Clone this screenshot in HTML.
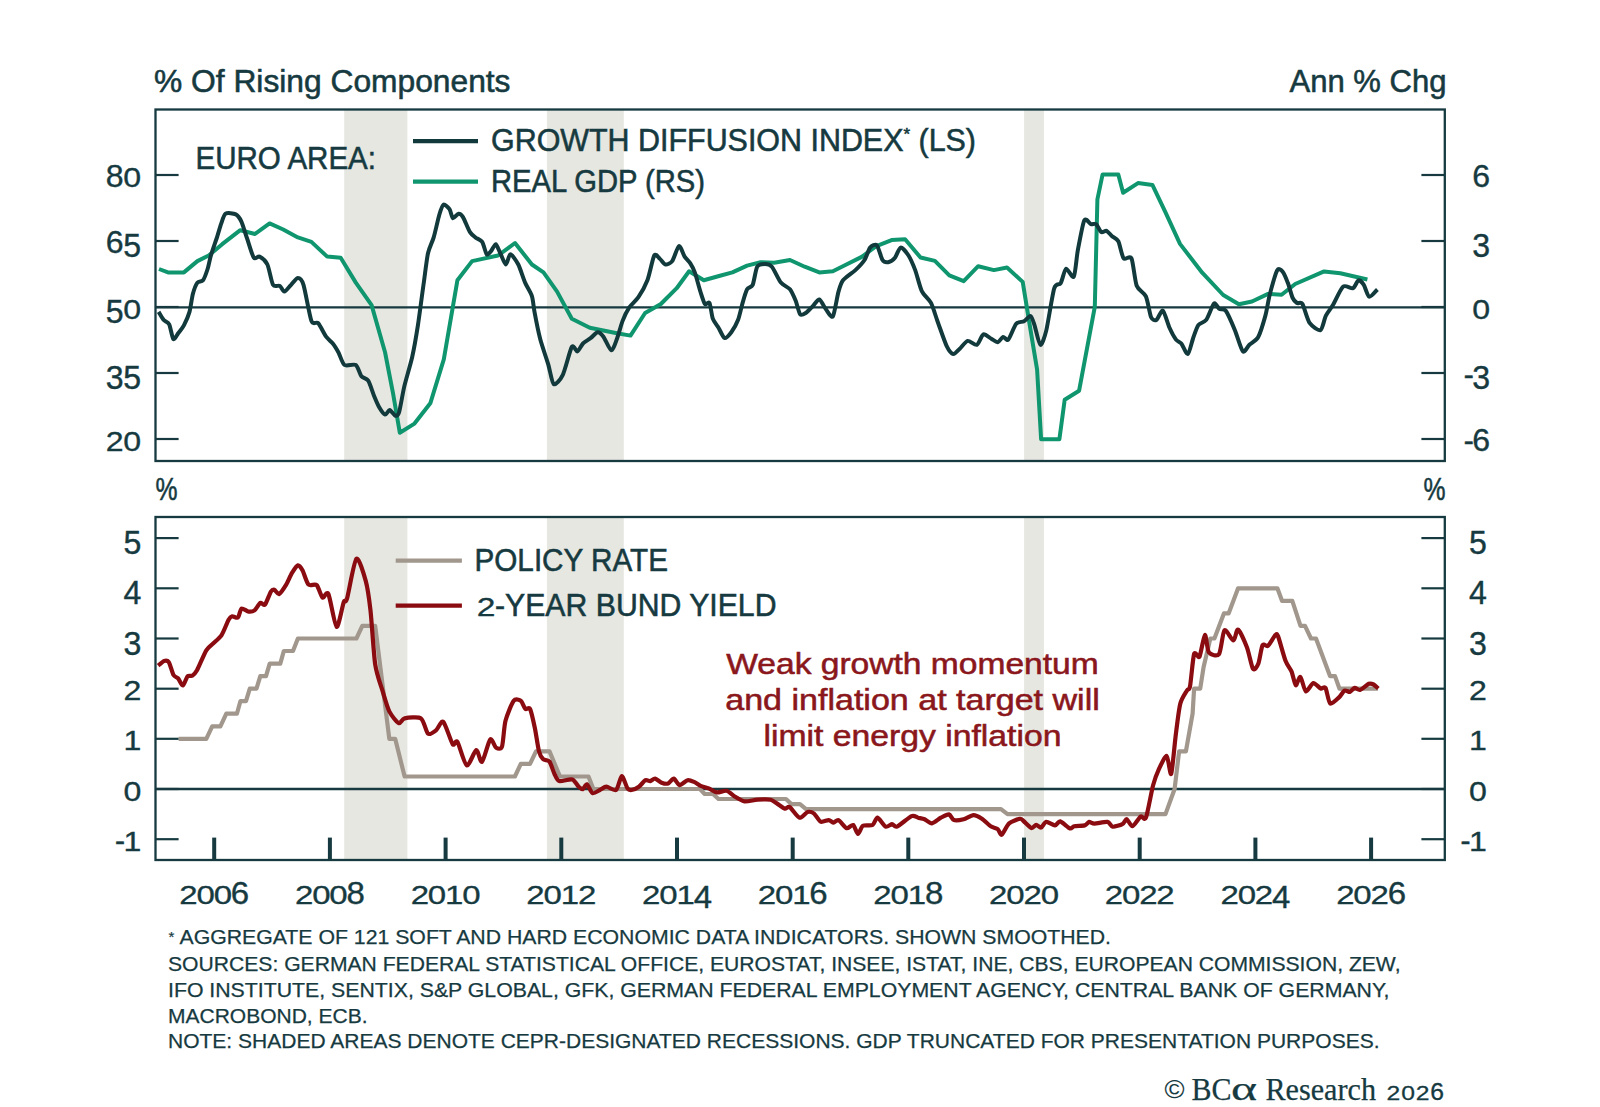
<!DOCTYPE html>
<html><head><meta charset="utf-8"><style>
html,body{margin:0;padding:0;background:#fff;width:1600px;height:1107px;overflow:hidden}
svg{display:block}
text{font-family:"Liberation Sans",sans-serif;fill:#163a3f;stroke:#163a3f;stroke-width:0.55px}
</style></head><body>
<svg width="1600" height="1107" viewBox="0 0 1600 1107">
<rect width="1600" height="1107" fill="#fff"/>

<rect x="344.2" y="109.5" width="63.2" height="351.5" fill="#e7e7e2"/>
<rect x="344.2" y="517" width="63.2" height="343" fill="#e7e7e2"/>
<rect x="546.9" y="109.5" width="76.9" height="351.5" fill="#e7e7e2"/>
<rect x="546.9" y="517" width="76.9" height="343" fill="#e7e7e2"/>
<rect x="1024.1" y="109.5" width="19.8" height="351.5" fill="#e7e7e2"/>
<rect x="1024.1" y="517" width="19.8" height="343" fill="#e7e7e2"/>
<line x1="155.5" y1="307.3" x2="1444.8" y2="307.3" stroke="#163a3f" stroke-width="2.2"/>
<line x1="155.5" y1="789" x2="1444.8" y2="789" stroke="#163a3f" stroke-width="2.6"/>
<polyline points="159.0,269.0 168.0,272.4 183.9,272.4 197.4,261.1 208.7,255.5 222.2,244.2 240.3,230.2 255.0,234.0 269.6,223.4 283.2,229.5 297.9,237.4 311.4,241.9 327.2,256.6 340.7,257.7 355.8,282.6 371.6,305.1 385.1,352.5 393.0,393.2 399.8,432.7 414.5,423.6 430.3,403.3 443.8,359.3 457.4,280.3 472.1,261.1 498.0,255.5 515.0,243.0 531.9,264.5 543.5,272.4 557.1,291.6 571.8,318.7 589.8,327.7 616.9,333.3 630.5,335.6 645.1,313.0 660.9,304.0 676.7,288.2 689.1,271.3 703.8,280.3 720.0,275.8 732.4,272.4 747.1,265.6 760.6,262.2 774.2,262.7 790.0,260.0 804.7,266.7 819.3,272.4 832.9,271.3 846.4,264.5 862.2,256.6 875.8,246.4 891.6,240.1 905.1,239.2 920.5,257.5 934.9,260.9 949.3,275.3 963.7,281.1 978.2,266.2 993.9,270.1 1007.0,267.5 1022.7,281.9 1030.6,330.4 1037.1,369.7 1041.1,439.2 1059.4,439.2 1064.7,399.8 1079.1,390.7 1094.8,306.8 1097.4,199.3 1102.6,174.4 1118.3,174.4 1123.1,192.8 1138.0,183.1 1152.4,184.9 1165.5,212.4 1180.0,243.9 1202.2,272.7 1223.2,295.0 1238.9,304.2 1252.0,301.5 1268.1,293.9 1281.6,294.8 1295.2,284.0 1324.1,271.4 1340.3,273.2 1367.4,279.5" fill="none" stroke="#10966f" stroke-width="4.0" stroke-linejoin="round" stroke-linecap="butt"/>
<path d="M158.6,311.9 C159.2,312.9 162.2,318.2 163.5,319.8 C164.8,321.4 168.0,321.9 169.2,324.3 C170.4,326.7 172.2,337.9 173.3,339.0 C174.4,340.1 176.9,335.0 178.2,333.3 C179.5,331.6 182.5,328.1 183.9,325.4 C185.3,322.7 188.4,315.8 189.5,311.9 C190.6,307.9 191.9,297.5 192.9,293.8 C193.9,290.1 196.1,284.3 197.4,282.6 C198.7,280.9 201.7,282.0 203.0,280.3 C204.3,278.6 206.6,272.1 207.6,269.0 C208.6,265.9 209.8,259.3 210.9,255.5 C212.0,251.7 215.3,242.4 216.6,238.5 C217.9,234.6 220.0,227.0 221.1,223.9 C222.2,220.8 223.8,214.9 225.6,213.7 C227.4,212.5 233.8,213.4 235.8,214.4 C237.8,215.4 240.0,218.6 241.4,221.6 C242.8,224.6 245.5,234.0 247.1,238.5 C248.7,243.0 252.2,255.4 253.8,257.7 C255.4,260.0 257.8,255.8 259.5,256.6 C261.2,257.5 265.7,261.0 267.4,264.5 C269.1,268.0 271.4,282.1 273.0,284.8 C274.6,287.5 278.4,285.0 279.8,285.9 C281.2,286.8 282.9,291.7 284.3,291.6 C285.7,291.5 289.4,286.5 291.1,284.8 C292.8,283.1 296.3,278.0 297.9,278.0 C299.4,278.0 301.8,279.4 303.5,284.8 C305.2,290.2 309.6,316.1 311.4,320.9 C313.2,325.7 316.4,321.2 318.2,323.2 C320.0,325.2 324.3,334.2 326.1,336.7 C327.9,339.2 331.2,341.5 332.8,343.5 C334.4,345.5 337.0,349.8 338.5,352.5 C340.0,355.2 342.3,363.4 344.5,365.0 C346.7,366.6 353.7,363.6 355.8,365.0 C357.9,366.4 359.8,374.2 361.4,376.2 C362.9,378.2 366.6,378.3 368.2,380.7 C369.8,383.1 372.5,392.0 373.9,395.4 C375.3,398.8 378.1,405.4 379.5,407.8 C380.9,410.2 383.8,414.3 385.1,414.6 C386.4,414.9 388.4,410.0 389.7,410.1 C391.0,410.2 394.1,415.4 395.3,415.7 C396.5,416.0 398.0,416.0 399.1,412.3 C400.2,408.6 402.7,393.3 404.3,386.4 C405.9,379.5 410.5,364.6 412.2,357.0 C413.9,349.4 416.5,334.4 417.9,325.4 C419.3,316.4 422.2,293.8 423.5,284.8 C424.8,275.8 426.7,259.1 428.0,253.2 C429.3,247.3 432.3,242.2 433.7,237.4 C435.1,232.6 438.1,218.9 439.3,214.8 C440.5,210.7 442.1,205.4 443.4,204.7 C444.7,204.0 448.3,207.5 449.5,209.2 C450.7,210.9 451.8,217.6 452.9,218.2 C454.0,218.8 457.2,213.8 458.5,213.7 C459.8,213.6 461.6,214.8 463.0,217.1 C464.4,219.4 468.2,229.3 469.8,231.8 C471.4,234.3 473.8,236.1 475.4,237.4 C476.9,238.7 480.8,239.8 482.2,241.9 C483.6,244.0 485.6,253.2 486.7,254.3 C487.8,255.4 490.1,252.2 491.2,250.9 C492.3,249.6 494.7,243.9 495.8,244.2 C496.9,244.5 499.0,250.7 500.3,253.2 C501.6,255.7 504.6,264.4 505.9,264.5 C507.2,264.6 508.8,254.3 510.4,254.3 C511.9,254.3 516.5,261.0 518.3,264.5 C520.1,268.0 523.4,278.7 525.1,282.6 C526.8,286.6 530.7,292.4 531.9,296.1 C533.1,299.8 533.5,306.5 534.5,311.9 C535.5,317.3 538.5,332.5 540.2,339.0 C541.9,345.5 546.4,358.2 548.1,363.8 C549.8,369.4 551.9,382.7 553.7,384.1 C555.5,385.5 560.4,379.8 562.7,375.1 C565.0,370.5 570.0,349.9 571.8,346.9 C573.6,343.9 576.0,351.8 577.4,351.4 C578.8,351.0 581.3,345.2 583.0,343.5 C584.7,341.8 589.1,339.3 590.9,337.9 C592.7,336.5 596.1,332.3 597.7,332.2 C599.3,332.1 601.7,334.4 603.4,336.7 C605.1,339.0 609.6,350.0 611.3,350.3 C613.0,350.6 615.5,342.7 616.9,339.0 C618.3,335.3 621.1,324.8 622.6,320.9 C624.1,316.9 627.3,310.4 629.3,307.4 C631.3,304.4 636.1,300.6 638.4,297.2 C640.7,293.8 645.4,285.5 647.4,280.3 C649.4,275.1 652.7,258.2 654.2,255.5 C655.8,252.8 658.4,257.7 659.8,258.8 C661.2,259.9 663.8,264.2 665.4,264.5 C667.0,264.8 670.5,263.4 672.2,261.1 C673.9,258.8 677.5,246.6 679.0,246.0 C680.5,245.4 683.2,254.4 684.6,256.6 C686.0,258.8 689.0,261.4 690.3,263.4 C691.6,265.4 693.5,268.9 694.8,272.4 C696.1,275.9 699.1,287.7 700.4,291.6 C701.7,295.6 703.8,302.6 704.9,304.0 C706.0,305.4 708.5,301.1 709.5,302.9 C710.5,304.7 711.7,315.6 712.8,318.7 C713.9,321.8 717.0,325.3 718.5,327.7 C720.0,330.1 722.9,337.3 724.5,337.9 C726.1,338.5 729.6,334.5 731.3,332.2 C733.0,329.9 736.7,323.5 738.1,319.8 C739.5,316.1 741.5,306.7 742.6,302.9 C743.7,299.1 745.8,291.6 747.1,289.3 C748.4,287.0 751.4,287.6 752.7,284.8 C754.0,282.0 755.7,269.3 757.2,266.7 C758.8,264.1 763.3,264.0 765.1,264.0 C766.9,264.0 769.9,264.4 771.9,266.7 C773.9,269.0 778.6,279.8 780.9,282.6 C783.2,285.4 788.2,287.1 790.0,289.3 C791.8,291.6 794.3,297.5 795.6,300.6 C796.9,303.7 798.8,312.6 800.1,314.2 C801.4,315.8 804.2,314.0 805.8,313.0 C807.4,312.0 810.9,308.0 812.6,306.3 C814.3,304.6 817.6,299.1 819.3,299.5 C821.0,299.9 824.4,307.5 826.1,309.6 C827.8,311.7 831.4,318.6 832.9,316.4 C834.4,314.1 837.2,296.1 838.5,291.6 C839.8,287.1 840.9,283.0 843.0,280.3 C845.1,277.6 852.7,272.6 855.4,270.1 C858.1,267.6 862.7,262.8 864.5,260.0 C866.3,257.2 868.6,249.4 870.1,247.6 C871.6,245.8 875.4,243.8 876.9,245.3 C878.4,246.9 881.1,257.9 882.5,260.0 C883.9,262.1 886.6,262.5 888.2,262.2 C889.8,261.9 893.5,259.5 895.0,257.7 C896.5,255.9 898.9,247.9 900.6,247.6 C902.3,247.3 906.7,252.7 908.5,255.5 C910.3,258.3 913.5,265.7 915.2,270.1 C916.9,274.6 919.8,287.0 921.8,291.1 C923.8,295.2 929.0,299.1 931.0,302.9 C933.0,306.7 935.5,315.8 937.5,321.2 C939.5,326.6 944.7,342.0 946.7,346.1 C948.7,350.2 951.7,353.7 953.3,354.0 C954.9,354.3 958.0,350.3 959.8,348.7 C961.6,347.1 965.6,341.4 967.7,340.9 C969.8,340.4 974.8,345.6 976.8,344.8 C978.8,344.0 981.6,335.1 983.4,334.3 C985.2,333.6 989.5,337.8 991.3,338.8 C993.1,339.8 996.3,342.4 997.8,342.2 C999.3,342.0 1001.8,337.2 1003.1,336.9 C1004.4,336.6 1006.7,341.2 1008.3,339.6 C1009.9,338.0 1014.2,326.1 1016.2,323.8 C1018.2,321.5 1022.2,322.2 1024.0,321.2 C1025.8,320.2 1029.3,315.5 1030.6,316.0 C1031.9,316.5 1033.3,321.5 1034.5,325.1 C1035.7,328.7 1038.8,344.1 1040.3,344.8 C1041.8,345.5 1044.6,337.4 1046.3,330.4 C1048.0,323.3 1052.4,294.3 1054.2,288.4 C1056.0,282.5 1059.2,285.6 1060.7,283.2 C1062.2,280.8 1064.4,269.6 1066.0,268.8 C1067.6,268.0 1072.3,278.9 1073.8,276.6 C1075.3,274.3 1076.5,257.4 1077.8,250.4 C1079.1,243.4 1082.7,223.6 1084.3,220.3 C1085.9,217.0 1089.4,223.7 1090.9,224.2 C1092.4,224.7 1094.8,223.2 1096.1,224.2 C1097.4,225.2 1100.0,231.3 1101.3,232.1 C1102.6,232.9 1105.3,230.3 1106.6,230.8 C1107.9,231.3 1110.3,234.7 1111.8,236.0 C1113.3,237.3 1116.8,238.5 1118.3,241.3 C1119.8,244.1 1121.9,256.2 1123.6,258.3 C1125.2,260.4 1129.9,254.9 1131.5,258.3 C1133.1,261.7 1134.9,281.1 1136.7,285.8 C1138.5,290.6 1144.1,292.4 1145.9,296.3 C1147.7,300.2 1149.8,314.4 1151.1,317.3 C1152.4,320.2 1154.9,320.7 1156.4,319.9 C1157.9,319.1 1161.3,309.7 1162.9,310.7 C1164.5,311.7 1167.9,324.2 1169.5,327.8 C1171.1,331.4 1174.5,337.6 1176.0,339.6 C1177.5,341.6 1179.8,341.7 1181.3,343.5 C1182.8,345.3 1186.3,354.7 1187.8,354.0 C1189.3,353.3 1191.8,341.8 1193.1,338.2 C1194.4,334.6 1196.7,327.4 1198.3,325.1 C1199.9,322.8 1204.2,322.6 1206.2,319.9 C1208.2,317.2 1212.4,305.0 1214.0,303.6 C1215.6,302.2 1217.8,308.0 1219.3,308.9 C1220.8,309.8 1223.8,308.0 1225.8,310.7 C1227.8,313.4 1232.9,325.3 1235.0,330.4 C1237.1,335.5 1241.1,349.6 1242.9,351.4 C1244.7,353.2 1247.5,346.6 1249.4,344.8 C1251.3,343.0 1256.1,340.9 1258.1,337.3 C1260.1,333.7 1263.9,321.0 1265.4,315.6 C1266.9,310.2 1268.4,299.5 1269.9,293.9 C1271.4,288.3 1275.5,273.3 1277.1,270.5 C1278.7,267.7 1281.2,269.8 1282.5,271.4 C1283.8,273.0 1286.7,279.8 1287.9,283.1 C1289.2,286.4 1291.4,295.1 1292.5,297.6 C1293.6,300.1 1295.8,302.2 1297.0,303.0 C1298.2,303.8 1300.8,301.4 1302.4,303.9 C1304.0,306.4 1307.3,319.6 1309.6,322.9 C1311.9,326.2 1318.5,331.0 1320.5,330.1 C1322.5,329.2 1324.3,318.8 1325.9,315.6 C1327.5,312.4 1331.0,308.4 1333.1,304.8 C1335.2,301.2 1340.5,288.8 1343.0,286.7 C1345.5,284.6 1351.1,289.0 1353.0,288.2 C1354.9,287.4 1357.1,280.8 1358.4,280.4 C1359.8,280.0 1362.5,282.9 1363.8,284.9 C1365.1,286.9 1367.5,296.1 1369.2,296.7 C1370.9,297.3 1376.4,290.3 1377.4,289.4" fill="none" stroke="#123a3c" stroke-width="4.0" stroke-linejoin="round" stroke-linecap="butt"/>
<polyline points="178.6,738.8 206.3,738.8 212.2,726.3 220.4,726.3 226.3,713.7 236.9,713.7 240.4,701.2 246.0,701.2 249.8,688.7 256.5,688.7 260.3,676.1 266.0,676.1 269.7,663.6 280.3,663.6 283.8,651.0 293.0,651.0 297.9,638.5 356.4,638.5 362.3,625.9 375.2,625.9 389.3,738.8 395.2,738.8 404.6,776.5 514.9,776.5 520.8,763.9 530.0,763.9 536.0,751.4 549.5,751.4 560.0,776.5 588.5,776.5 593.4,789.0 700.0,789.0 704.7,794.0 713.0,794.0 718.5,799.0 786.0,799.0 791.4,804.1 800.0,804.1 806.0,809.1 1001.0,809.1 1007.5,814.1 1165.5,814.1 1174.6,789.0 1179.1,751.4 1185.9,751.4 1192.6,713.7 1194.1,688.7 1200.2,688.7 1203.5,667.6 1210.3,638.5 1214.4,638.5 1223.9,613.4 1228.6,613.4 1238.1,588.3 1277.4,588.3 1282.1,600.9 1292.3,600.9 1300.5,625.9 1305.0,625.9 1311.0,638.5 1316.0,638.5 1330.0,676.1 1335.0,676.1 1339.5,688.7 1378.0,688.7" fill="none" stroke="#a1978c" stroke-width="4.2" stroke-linejoin="round"/>
<path d="M158.2,665.6 C158.9,665.0 162.8,661.3 164.1,660.9 C165.4,660.5 167.6,660.3 168.8,662.1 C170.0,663.9 172.3,673.0 173.5,675.0 C174.7,677.0 177.0,677.2 178.2,678.5 C179.4,679.8 181.7,685.8 182.9,685.5 C184.1,685.2 186.4,677.4 187.6,676.2 C188.8,675.0 191.1,676.4 192.3,675.7 C193.5,675.0 195.2,673.5 197.0,670.3 C198.8,667.1 204.2,653.7 206.3,650.3 C208.4,646.9 211.5,645.2 213.4,643.3 C215.3,641.4 219.7,638.0 221.6,635.1 C223.5,632.2 227.3,622.1 228.6,619.8 C229.9,617.4 231.0,616.6 232.2,616.3 C233.4,616.0 236.8,618.5 238.0,617.5 C239.2,616.5 240.2,609.2 241.5,608.5 C242.8,607.8 247.0,611.4 248.6,611.6 C250.2,611.8 253.0,611.5 254.5,610.4 C256.0,609.3 259.0,603.6 260.3,602.9 C261.6,602.2 263.7,606.0 265.0,604.6 C266.3,603.2 269.7,593.5 270.9,591.6 C272.1,589.8 273.4,589.5 274.4,589.8 C275.4,590.1 277.6,594.6 279.1,594.0 C280.6,593.4 284.6,587.2 286.2,584.6 C287.8,582.0 290.5,575.3 292.0,572.9 C293.5,570.5 296.6,565.7 297.9,565.4 C299.2,565.1 301.3,568.1 302.6,570.5 C303.9,572.9 306.7,582.8 308.5,584.6 C310.3,586.4 314.9,583.5 316.7,585.1 C318.4,586.7 321.0,596.4 322.5,597.5 C324.0,598.6 326.6,590.3 328.4,594.0 C330.2,597.7 334.7,625.9 336.6,626.9 C338.5,627.9 342.4,605.7 343.7,602.2 C345.0,598.7 345.4,604.1 347.0,598.7 C348.6,593.3 354.0,561.0 356.4,558.8 C358.8,556.6 364.0,574.6 365.8,581.1 C367.6,587.6 369.3,600.0 370.5,610.4 C371.7,620.8 373.7,654.4 375.2,664.4 C376.7,674.4 380.5,684.3 382.3,690.2 C384.1,696.1 387.2,707.3 389.3,711.4 C391.4,715.5 396.8,722.2 398.7,723.1 C400.6,724.0 401.8,719.0 404.6,718.4 C407.4,717.8 418.1,716.5 421.0,718.4 C423.9,720.3 426.1,732.2 428.0,733.7 C429.9,735.2 434.3,731.6 436.2,730.1 C438.1,728.6 441.2,720.1 443.3,721.9 C445.4,723.7 450.9,741.7 452.7,744.2 C454.5,746.7 455.6,739.2 457.4,741.9 C459.2,744.5 464.4,764.4 466.8,765.4 C469.2,766.4 474.3,750.6 476.2,750.1 C478.1,749.6 480.2,763.1 482.0,761.8 C483.8,760.5 488.4,741.3 490.2,739.5 C492.0,737.7 494.6,746.8 496.1,747.7 C497.6,748.6 500.8,750.0 502.0,746.6 C503.2,743.2 504.0,726.5 505.5,720.8 C507.0,715.1 511.8,703.3 513.7,700.8 C515.6,698.3 519.3,699.8 520.8,700.8 C522.3,701.8 524.2,708.0 525.4,709.0 C526.6,710.0 528.9,706.6 530.1,709.0 C531.3,711.4 533.8,723.0 534.9,728.2 C536.0,733.5 537.9,747.1 538.9,751.0 C539.9,754.9 541.7,757.8 543.0,759.1 C544.3,760.4 548.1,759.8 549.5,761.6 C550.9,763.4 553.2,771.3 554.4,773.7 C555.6,776.1 557.0,780.4 559.2,781.1 C561.4,781.8 569.8,778.7 572.2,779.4 C574.6,780.1 577.4,785.5 578.7,786.7 C580.0,787.9 581.8,789.5 582.8,789.2 C583.8,788.9 585.7,783.8 586.9,784.3 C588.1,784.8 591.0,792.5 592.6,793.2 C594.2,793.9 598.2,790.8 599.9,790.0 C601.6,789.2 604.4,786.7 606.4,786.7 C608.4,786.7 614.2,791.3 616.1,790.0 C618.0,788.7 620.4,776.4 621.8,776.2 C623.2,776.0 626.3,786.7 627.5,788.4 C628.7,790.1 630.2,790.2 631.6,790.0 C633.0,789.8 637.2,787.9 638.9,786.7 C640.6,785.5 644.0,780.9 645.4,780.2 C646.8,779.5 649.0,781.3 650.2,781.1 C651.4,780.9 653.7,778.4 655.1,778.6 C656.5,778.8 660.0,782.1 661.6,782.7 C663.2,783.3 666.6,784.0 668.1,783.5 C669.6,783.0 672.4,778.4 673.8,778.6 C675.2,778.8 677.8,784.9 679.5,785.1 C681.2,785.3 685.8,780.6 687.6,780.2 C689.4,779.8 692.5,781.2 694.1,781.9 C695.7,782.6 698.8,785.1 700.6,785.9 C702.4,786.7 706.7,787.6 708.7,788.4 C710.7,789.2 714.7,792.1 716.9,792.4 C719.1,792.7 724.4,790.3 726.6,790.8 C728.8,791.3 732.5,795.2 734.7,796.5 C736.9,797.8 741.6,801.0 744.5,801.4 C747.4,801.8 754.2,799.9 757.5,799.7 C760.8,799.5 767.9,799.1 770.5,799.7 C773.1,800.3 776.8,803.5 778.6,804.6 C780.4,805.7 783.5,808.4 784.9,808.7 C786.3,809.0 787.9,806.0 789.7,807.1 C791.5,808.2 797.3,817.1 799.5,817.7 C801.7,818.3 805.8,812.5 807.6,812.0 C809.4,811.5 812.5,812.4 814.1,813.6 C815.7,814.8 818.8,820.9 820.6,821.7 C822.4,822.5 827.1,820.0 828.7,820.1 C830.3,820.2 832.4,822.6 833.6,822.6 C834.8,822.6 836.9,819.4 838.5,820.1 C840.1,820.8 844.8,827.6 846.6,828.2 C848.4,828.8 851.7,824.3 853.1,825.0 C854.5,825.7 856.8,833.8 858.0,833.9 C859.2,834.0 861.1,826.9 862.9,825.8 C864.7,824.7 870.8,826.0 872.6,825.0 C874.4,824.0 875.9,817.5 877.5,817.7 C879.1,817.9 883.8,825.8 885.6,826.6 C887.4,827.4 890.7,824.2 892.1,824.2 C893.5,824.2 894.6,827.6 897.0,826.6 C899.4,825.6 909.0,817.2 911.6,816.1 C914.2,815.0 916.5,817.3 918.1,817.7 C919.7,818.1 922.9,818.6 924.6,819.3 C926.3,820.0 929.9,823.6 931.9,823.4 C933.9,823.2 938.8,818.8 940.9,817.7 C943.0,816.6 947.4,814.1 949.0,814.4 C950.6,814.7 952.1,819.5 953.9,820.1 C955.7,820.7 961.2,819.9 963.6,819.3 C966.0,818.7 971.2,815.3 973.4,815.2 C975.6,815.1 979.3,817.1 981.5,818.5 C983.7,819.9 989.2,825.3 991.2,826.6 C993.2,827.9 996.4,828.1 997.7,829.1 C999.0,830.1 1000.4,835.4 1001.8,834.7 C1003.2,834.0 1006.8,825.4 1009.1,823.4 C1011.4,821.4 1018.2,819.1 1020.0,818.8 C1021.8,818.5 1022.1,819.9 1023.5,821.0 C1024.9,822.1 1029.8,827.5 1031.4,828.0 C1033.0,828.5 1035.0,824.9 1036.2,824.9 C1037.4,824.9 1039.8,828.0 1041.0,827.6 C1042.2,827.2 1044.5,822.2 1046.2,821.9 C1048.0,821.6 1053.2,825.5 1055.0,825.4 C1056.8,825.3 1058.3,821.0 1060.2,821.4 C1062.1,821.8 1068.2,827.8 1069.9,828.4 C1071.7,829.0 1072.4,826.6 1074.2,826.2 C1076.0,825.8 1082.8,825.9 1084.7,825.4 C1086.6,824.9 1087.9,822.1 1089.1,821.9 C1090.3,821.7 1092.1,823.6 1094.4,823.6 C1096.7,823.6 1105.2,821.5 1107.5,821.9 C1109.8,822.3 1110.8,826.4 1112.7,826.7 C1114.6,827.0 1120.7,825.0 1122.4,824.1 C1124.2,823.2 1125.5,818.9 1126.7,819.2 C1128.0,819.5 1130.7,826.5 1132.4,826.2 C1134.2,825.9 1139.0,817.7 1140.7,816.6 C1142.4,815.5 1144.5,821.4 1146.0,817.5 C1147.5,813.6 1151.5,791.2 1153.1,785.2 C1154.7,779.2 1157.1,773.1 1158.8,769.4 C1160.5,765.7 1165.2,755.3 1166.7,755.9 C1168.2,756.5 1170.1,776.4 1171.2,773.9 C1172.3,771.4 1174.6,744.2 1175.7,735.5 C1176.8,726.8 1178.8,709.5 1180.2,703.9 C1181.6,698.3 1185.8,692.6 1187.0,690.4 C1188.2,688.2 1189.1,691.0 1190.0,686.5 C1190.9,682.0 1192.9,657.7 1194.1,654.0 C1195.3,650.3 1198.2,659.1 1199.5,656.7 C1200.8,654.3 1203.7,635.5 1204.9,635.0 C1206.1,634.5 1207.2,650.2 1209.0,652.6 C1210.8,655.0 1217.2,656.8 1219.1,654.0 C1221.0,651.2 1222.7,632.0 1224.5,630.3 C1226.3,628.6 1231.7,640.6 1233.4,640.5 C1235.1,640.4 1236.4,628.8 1238.1,629.6 C1239.8,630.4 1245.0,642.3 1246.9,647.2 C1248.8,652.1 1251.6,666.9 1253.0,668.9 C1254.4,670.9 1257.2,666.5 1258.4,663.5 C1259.6,660.5 1261.3,647.4 1262.5,645.2 C1263.7,643.0 1266.3,647.2 1267.9,645.9 C1269.5,644.6 1274.1,636.2 1275.4,635.0 C1276.7,633.8 1276.8,633.2 1278.1,636.4 C1279.4,639.6 1283.8,656.4 1285.5,660.8 C1287.2,665.2 1290.3,668.5 1291.6,671.6 C1292.9,674.7 1294.6,684.5 1295.7,685.2 C1296.8,685.9 1299.1,676.2 1300.4,677.0 C1301.7,677.8 1304.2,690.5 1305.8,691.3 C1307.4,692.1 1311.4,683.5 1313.3,683.1 C1315.2,682.8 1319.2,687.9 1320.7,688.5 C1322.2,689.1 1324.3,686.0 1325.5,687.9 C1326.7,689.8 1328.5,702.3 1330.2,703.5 C1331.9,704.7 1337.2,699.0 1339.0,697.4 C1340.8,695.8 1343.1,691.3 1344.5,690.6 C1345.9,689.9 1348.6,692.2 1349.9,691.9 C1351.2,691.6 1353.3,688.1 1354.6,687.9 C1355.9,687.6 1358.2,690.4 1360.0,689.9 C1361.8,689.4 1367.1,684.5 1368.8,683.8 C1370.5,683.1 1372.4,683.9 1373.6,684.5 C1374.8,685.1 1377.7,688.0 1378.3,688.5" fill="none" stroke="#8a0b10" stroke-width="4.2" stroke-linejoin="round"/>
<rect x="155.5" y="109.5" width="1289.3" height="351.5" fill="none" stroke="#163a3f" stroke-width="2.3"/>
<rect x="155.5" y="517" width="1289.3" height="343" fill="none" stroke="#163a3f" stroke-width="2.3"/>
<line x1="155.5" y1="175" x2="178.6" y2="175" stroke="#163a3f" stroke-width="2.2"/>
<line x1="1421.4" y1="175" x2="1444.8" y2="175" stroke="#163a3f" stroke-width="2.2"/>
<line x1="155.5" y1="241" x2="178.6" y2="241" stroke="#163a3f" stroke-width="2.2"/>
<line x1="1421.4" y1="241" x2="1444.8" y2="241" stroke="#163a3f" stroke-width="2.2"/>
<line x1="155.5" y1="307" x2="178.6" y2="307" stroke="#163a3f" stroke-width="2.2"/>
<line x1="1421.4" y1="307" x2="1444.8" y2="307" stroke="#163a3f" stroke-width="2.2"/>
<line x1="155.5" y1="373" x2="178.6" y2="373" stroke="#163a3f" stroke-width="2.2"/>
<line x1="1421.4" y1="373" x2="1444.8" y2="373" stroke="#163a3f" stroke-width="2.2"/>
<line x1="155.5" y1="439" x2="178.6" y2="439" stroke="#163a3f" stroke-width="2.2"/>
<line x1="1421.4" y1="439" x2="1444.8" y2="439" stroke="#163a3f" stroke-width="2.2"/>
<line x1="155.5" y1="839.2" x2="178.6" y2="839.2" stroke="#163a3f" stroke-width="2.2"/>
<line x1="1421.4" y1="839.2" x2="1444.8" y2="839.2" stroke="#163a3f" stroke-width="2.2"/>
<line x1="155.5" y1="789.0" x2="178.6" y2="789.0" stroke="#163a3f" stroke-width="2.2"/>
<line x1="1421.4" y1="789.0" x2="1444.8" y2="789.0" stroke="#163a3f" stroke-width="2.2"/>
<line x1="155.5" y1="738.8" x2="178.6" y2="738.8" stroke="#163a3f" stroke-width="2.2"/>
<line x1="1421.4" y1="738.8" x2="1444.8" y2="738.8" stroke="#163a3f" stroke-width="2.2"/>
<line x1="155.5" y1="688.7" x2="178.6" y2="688.7" stroke="#163a3f" stroke-width="2.2"/>
<line x1="1421.4" y1="688.7" x2="1444.8" y2="688.7" stroke="#163a3f" stroke-width="2.2"/>
<line x1="155.5" y1="638.5" x2="178.6" y2="638.5" stroke="#163a3f" stroke-width="2.2"/>
<line x1="1421.4" y1="638.5" x2="1444.8" y2="638.5" stroke="#163a3f" stroke-width="2.2"/>
<line x1="155.5" y1="588.3" x2="178.6" y2="588.3" stroke="#163a3f" stroke-width="2.2"/>
<line x1="1421.4" y1="588.3" x2="1444.8" y2="588.3" stroke="#163a3f" stroke-width="2.2"/>
<line x1="155.5" y1="538.1" x2="178.6" y2="538.1" stroke="#163a3f" stroke-width="2.2"/>
<line x1="1421.4" y1="538.1" x2="1444.8" y2="538.1" stroke="#163a3f" stroke-width="2.2"/>
<rect x="212.2" y="837.6" width="4" height="22.4" fill="#163a3f"/>
<rect x="327.9" y="837.6" width="4" height="22.4" fill="#163a3f"/>
<rect x="443.6" y="837.6" width="4" height="22.4" fill="#163a3f"/>
<rect x="559.3" y="837.6" width="4" height="22.4" fill="#163a3f"/>
<rect x="675.0" y="837.6" width="4" height="22.4" fill="#163a3f"/>
<rect x="790.7" y="837.6" width="4" height="22.4" fill="#163a3f"/>
<rect x="906.3" y="837.6" width="4" height="22.4" fill="#163a3f"/>
<rect x="1022.0" y="837.6" width="4" height="22.4" fill="#163a3f"/>
<rect x="1137.7" y="837.6" width="4" height="22.4" fill="#163a3f"/>
<rect x="1253.4" y="837.6" width="4" height="22.4" fill="#163a3f"/>
<rect x="1369.1" y="837.6" width="4" height="22.4" fill="#163a3f"/>
<text transform="translate(114.7,186.5) scale(1.07,1.059)" font-size="30" text-anchor="middle" style="stroke-width:0.35px">8</text>
<text transform="translate(132.2,186.5) scale(1.07,0.902)" font-size="30" text-anchor="middle" style="stroke-width:0.35px">0</text>
<text transform="translate(114.7,252.5) scale(1.07,1.059)" font-size="30" text-anchor="middle" style="stroke-width:0.35px">6</text>
<text transform="translate(132.2,257.0) scale(1.07,1.098)" font-size="30" text-anchor="middle" style="stroke-width:0.35px">5</text>
<text transform="translate(114.7,323.0) scale(1.07,1.098)" font-size="30" text-anchor="middle" style="stroke-width:0.35px">5</text>
<text transform="translate(132.2,318.5) scale(1.07,0.902)" font-size="30" text-anchor="middle" style="stroke-width:0.35px">0</text>
<text transform="translate(114.7,389.0) scale(1.07,1.098)" font-size="30" text-anchor="middle" style="stroke-width:0.35px">3</text>
<text transform="translate(132.2,389.0) scale(1.07,1.098)" font-size="30" text-anchor="middle" style="stroke-width:0.35px">5</text>
<text transform="translate(114.7,450.5) scale(1.07,0.902)" font-size="30" text-anchor="middle" style="stroke-width:0.35px">2</text>
<text transform="translate(132.2,450.5) scale(1.07,0.902)" font-size="30" text-anchor="middle" style="stroke-width:0.35px">0</text>
<text transform="translate(1481.2,186.5) scale(1.07,1.059)" font-size="30" text-anchor="middle" style="stroke-width:0.35px">6</text>
<text transform="translate(1481.2,257.0) scale(1.07,1.098)" font-size="30" text-anchor="middle" style="stroke-width:0.35px">3</text>
<text transform="translate(1481.2,318.5) scale(1.07,0.902)" font-size="30" text-anchor="middle" style="stroke-width:0.35px">0</text>
<text transform="translate(1468.7,384.5)" font-size="30" text-anchor="middle">-</text>
<text transform="translate(1481.2,389.0) scale(1.07,1.098)" font-size="30" text-anchor="middle" style="stroke-width:0.35px">3</text>
<text transform="translate(1468.7,450.5)" font-size="30" text-anchor="middle">-</text>
<text transform="translate(1481.2,450.5) scale(1.07,1.059)" font-size="30" text-anchor="middle" style="stroke-width:0.35px">6</text>
<text transform="translate(120.0,850.7)" font-size="30" text-anchor="middle">-</text>
<text transform="translate(132.5,850.7) scale(1.07,0.902)" font-size="30" text-anchor="middle" style="stroke-width:0.35px">1</text>
<text transform="translate(1465.5,850.7)" font-size="30" text-anchor="middle">-</text>
<text transform="translate(1478.0,850.7) scale(1.07,0.902)" font-size="30" text-anchor="middle" style="stroke-width:0.35px">1</text>
<text transform="translate(132.5,800.5) scale(1.07,0.902)" font-size="30" text-anchor="middle" style="stroke-width:0.35px">0</text>
<text transform="translate(1478.0,800.5) scale(1.07,0.902)" font-size="30" text-anchor="middle" style="stroke-width:0.35px">0</text>
<text transform="translate(132.5,750.3) scale(1.07,0.902)" font-size="30" text-anchor="middle" style="stroke-width:0.35px">1</text>
<text transform="translate(1478.0,750.3) scale(1.07,0.902)" font-size="30" text-anchor="middle" style="stroke-width:0.35px">1</text>
<text transform="translate(132.5,700.2) scale(1.07,0.902)" font-size="30" text-anchor="middle" style="stroke-width:0.35px">2</text>
<text transform="translate(1478.0,700.2) scale(1.07,0.902)" font-size="30" text-anchor="middle" style="stroke-width:0.35px">2</text>
<text transform="translate(132.5,654.5) scale(1.07,1.098)" font-size="30" text-anchor="middle" style="stroke-width:0.35px">3</text>
<text transform="translate(1478.0,654.5) scale(1.07,1.098)" font-size="30" text-anchor="middle" style="stroke-width:0.35px">3</text>
<text transform="translate(132.5,604.3) scale(1.07,1.098)" font-size="30" text-anchor="middle" style="stroke-width:0.35px">4</text>
<text transform="translate(1478.0,604.3) scale(1.07,1.098)" font-size="30" text-anchor="middle" style="stroke-width:0.35px">4</text>
<text transform="translate(132.5,554.1) scale(1.07,1.098)" font-size="30" text-anchor="middle" style="stroke-width:0.35px">5</text>
<text transform="translate(1478.0,554.1) scale(1.07,1.098)" font-size="30" text-anchor="middle" style="stroke-width:0.35px">5</text>
<text transform="translate(188.4,904.0) scale(1.1,0.878)" font-size="30" text-anchor="middle" style="stroke-width:0.35px">2</text>
<text transform="translate(205.6,904.0) scale(1.1,0.878)" font-size="30" text-anchor="middle" style="stroke-width:0.35px">0</text>
<text transform="translate(222.8,904.0) scale(1.1,0.878)" font-size="30" text-anchor="middle" style="stroke-width:0.35px">0</text>
<text transform="translate(240.0,904.0) scale(1.1,1.073)" font-size="30" text-anchor="middle" style="stroke-width:0.35px">6</text>
<text transform="translate(304.1,904.0) scale(1.1,0.878)" font-size="30" text-anchor="middle" style="stroke-width:0.35px">2</text>
<text transform="translate(321.3,904.0) scale(1.1,0.878)" font-size="30" text-anchor="middle" style="stroke-width:0.35px">0</text>
<text transform="translate(338.5,904.0) scale(1.1,0.878)" font-size="30" text-anchor="middle" style="stroke-width:0.35px">0</text>
<text transform="translate(355.7,904.0) scale(1.1,1.073)" font-size="30" text-anchor="middle" style="stroke-width:0.35px">8</text>
<text transform="translate(419.8,904.0) scale(1.1,0.878)" font-size="30" text-anchor="middle" style="stroke-width:0.35px">2</text>
<text transform="translate(437.0,904.0) scale(1.1,0.878)" font-size="30" text-anchor="middle" style="stroke-width:0.35px">0</text>
<text transform="translate(454.2,904.0) scale(1.1,0.878)" font-size="30" text-anchor="middle" style="stroke-width:0.35px">1</text>
<text transform="translate(471.4,904.0) scale(1.1,0.878)" font-size="30" text-anchor="middle" style="stroke-width:0.35px">0</text>
<text transform="translate(535.5,904.0) scale(1.1,0.878)" font-size="30" text-anchor="middle" style="stroke-width:0.35px">2</text>
<text transform="translate(552.7,904.0) scale(1.1,0.878)" font-size="30" text-anchor="middle" style="stroke-width:0.35px">0</text>
<text transform="translate(569.9,904.0) scale(1.1,0.878)" font-size="30" text-anchor="middle" style="stroke-width:0.35px">1</text>
<text transform="translate(587.1,904.0) scale(1.1,0.878)" font-size="30" text-anchor="middle" style="stroke-width:0.35px">2</text>
<text transform="translate(651.2,904.0) scale(1.1,0.878)" font-size="30" text-anchor="middle" style="stroke-width:0.35px">2</text>
<text transform="translate(668.4,904.0) scale(1.1,0.878)" font-size="30" text-anchor="middle" style="stroke-width:0.35px">0</text>
<text transform="translate(685.6,904.0) scale(1.1,0.878)" font-size="30" text-anchor="middle" style="stroke-width:0.35px">1</text>
<text transform="translate(702.8,907.8) scale(1.1,1.063)" font-size="30" text-anchor="middle" style="stroke-width:0.35px">4</text>
<text transform="translate(766.9,904.0) scale(1.1,0.878)" font-size="30" text-anchor="middle" style="stroke-width:0.35px">2</text>
<text transform="translate(784.1,904.0) scale(1.1,0.878)" font-size="30" text-anchor="middle" style="stroke-width:0.35px">0</text>
<text transform="translate(801.3,904.0) scale(1.1,0.878)" font-size="30" text-anchor="middle" style="stroke-width:0.35px">1</text>
<text transform="translate(818.5,904.0) scale(1.1,1.073)" font-size="30" text-anchor="middle" style="stroke-width:0.35px">6</text>
<text transform="translate(882.5,904.0) scale(1.1,0.878)" font-size="30" text-anchor="middle" style="stroke-width:0.35px">2</text>
<text transform="translate(899.7,904.0) scale(1.1,0.878)" font-size="30" text-anchor="middle" style="stroke-width:0.35px">0</text>
<text transform="translate(916.9,904.0) scale(1.1,0.878)" font-size="30" text-anchor="middle" style="stroke-width:0.35px">1</text>
<text transform="translate(934.1,904.0) scale(1.1,1.073)" font-size="30" text-anchor="middle" style="stroke-width:0.35px">8</text>
<text transform="translate(998.2,904.0) scale(1.1,0.878)" font-size="30" text-anchor="middle" style="stroke-width:0.35px">2</text>
<text transform="translate(1015.4,904.0) scale(1.1,0.878)" font-size="30" text-anchor="middle" style="stroke-width:0.35px">0</text>
<text transform="translate(1032.6,904.0) scale(1.1,0.878)" font-size="30" text-anchor="middle" style="stroke-width:0.35px">2</text>
<text transform="translate(1049.8,904.0) scale(1.1,0.878)" font-size="30" text-anchor="middle" style="stroke-width:0.35px">0</text>
<text transform="translate(1113.9,904.0) scale(1.1,0.878)" font-size="30" text-anchor="middle" style="stroke-width:0.35px">2</text>
<text transform="translate(1131.1,904.0) scale(1.1,0.878)" font-size="30" text-anchor="middle" style="stroke-width:0.35px">0</text>
<text transform="translate(1148.3,904.0) scale(1.1,0.878)" font-size="30" text-anchor="middle" style="stroke-width:0.35px">2</text>
<text transform="translate(1165.5,904.0) scale(1.1,0.878)" font-size="30" text-anchor="middle" style="stroke-width:0.35px">2</text>
<text transform="translate(1229.6,904.0) scale(1.1,0.878)" font-size="30" text-anchor="middle" style="stroke-width:0.35px">2</text>
<text transform="translate(1246.8,904.0) scale(1.1,0.878)" font-size="30" text-anchor="middle" style="stroke-width:0.35px">0</text>
<text transform="translate(1264.0,904.0) scale(1.1,0.878)" font-size="30" text-anchor="middle" style="stroke-width:0.35px">2</text>
<text transform="translate(1281.2,907.8) scale(1.1,1.063)" font-size="30" text-anchor="middle" style="stroke-width:0.35px">4</text>
<text transform="translate(1345.3,904.0) scale(1.1,0.878)" font-size="30" text-anchor="middle" style="stroke-width:0.35px">2</text>
<text transform="translate(1362.5,904.0) scale(1.1,0.878)" font-size="30" text-anchor="middle" style="stroke-width:0.35px">0</text>
<text transform="translate(1379.7,904.0) scale(1.1,0.878)" font-size="30" text-anchor="middle" style="stroke-width:0.35px">2</text>
<text transform="translate(1396.9,904.0) scale(1.1,1.073)" font-size="30" text-anchor="middle" style="stroke-width:0.35px">6</text>
<text x="154" y="92" font-size="30.5" textLength="356.5" lengthAdjust="spacingAndGlyphs">% Of Rising Components</text>
<text x="1289.5" y="92" font-size="30.5" textLength="157" lengthAdjust="spacingAndGlyphs">Ann % Chg</text>
<text x="155.5" y="499.5" font-size="30.5" textLength="22" lengthAdjust="spacingAndGlyphs">%</text>
<text x="1423.5" y="499.5" font-size="30.5" textLength="22" lengthAdjust="spacingAndGlyphs">%</text>
<text x="195.5" y="168.6" font-size="30.5" textLength="180.5" lengthAdjust="spacingAndGlyphs">EURO AREA:</text>
<line x1="413" y1="141.2" x2="478" y2="141.2" stroke="#123a3c" stroke-width="4.2"/>
<line x1="413" y1="181.7" x2="478" y2="181.7" stroke="#10966f" stroke-width="4.2"/>
<text x="491" y="151.3" font-size="30.5" textLength="485" lengthAdjust="spacingAndGlyphs">GROWTH DIFFUSION INDEX<tspan font-size="17" dy="-11">*</tspan><tspan dy="11"> (LS)</tspan></text>
<text x="491" y="192" font-size="30.5" textLength="214" lengthAdjust="spacingAndGlyphs">REAL GDP (RS)</text>
<line x1="395.7" y1="560.7" x2="461.9" y2="560.7" stroke="#a1978c" stroke-width="4.2"/>
<line x1="395.7" y1="605.6" x2="461.9" y2="605.6" stroke="#8a0b10" stroke-width="4.2"/>
<text x="474.5" y="571.2" font-size="30.5" textLength="193.5" lengthAdjust="spacingAndGlyphs">POLICY RATE</text>
<text transform="translate(486.0,615.8) scale(1.12,0.888)" font-size="30" text-anchor="middle" style="stroke-width:0.35px">2</text>
<text x="495" y="615.8" font-size="30.5" textLength="281.5" lengthAdjust="spacingAndGlyphs">-YEAR BUND YIELD</text>
<text x="912.5" y="673.75" font-size="29.5" text-anchor="middle" style="fill:#8a171c;stroke:#8a171c" textLength="372.5" lengthAdjust="spacingAndGlyphs">Weak growth momentum</text>
<text x="912.5" y="710" font-size="29.5" text-anchor="middle" style="fill:#8a171c;stroke:#8a171c" textLength="374.5" lengthAdjust="spacingAndGlyphs">and inflation at target will</text>
<text x="912.5" y="746" font-size="29.5" text-anchor="middle" style="fill:#8a171c;stroke:#8a171c" textLength="298" lengthAdjust="spacingAndGlyphs">limit energy inflation</text>
<text x="168.5" y="942" font-size="15" style="stroke-width:0.2px">*</text>
<text x="179.5" y="944.4" font-size="20" style="stroke-width:0.25px" textLength="931.5" lengthAdjust="spacingAndGlyphs">AGGREGATE OF 121 SOFT AND HARD ECONOMIC DATA INDICATORS. SHOWN SMOOTHED.</text>
<text x="168" y="970.6" font-size="20" style="stroke-width:0.25px" textLength="1232.5" lengthAdjust="spacingAndGlyphs">SOURCES: GERMAN FEDERAL STATISTICAL OFFICE, EUROSTAT, INSEE, ISTAT, INE, CBS, EUROPEAN COMMISSION, ZEW,</text>
<text x="168" y="996.9" font-size="20" style="stroke-width:0.25px" textLength="1221.3" lengthAdjust="spacingAndGlyphs">IFO INSTITUTE, SENTIX, S&amp;P GLOBAL, GFK, GERMAN FEDERAL EMPLOYMENT AGENCY, CENTRAL BANK OF GERMANY,</text>
<text x="168" y="1022.8" font-size="20" style="stroke-width:0.25px" textLength="199.5" lengthAdjust="spacingAndGlyphs">MACROBOND, ECB.</text>
<text x="168" y="1047.5" font-size="20" style="stroke-width:0.25px" textLength="1211.5" lengthAdjust="spacingAndGlyphs">NOTE: SHADED AREAS DENOTE CEPR-DESIGNATED RECESSIONS. GDP TRUNCATED FOR PRESENTATION PURPOSES.</text>
<text x="1164.5" y="1098.3" font-size="25" style="stroke-width:0.1px" textLength="20" lengthAdjust="spacingAndGlyphs">©</text>
<text x="1191.5" y="1099.9" font-size="31" style="font-family:'Liberation Serif',serif;stroke-width:0.25px" textLength="40" lengthAdjust="spacingAndGlyphs">BC</text>
<text x="1231" y="1099.9" font-size="34" style="font-family:'Liberation Serif',serif;stroke-width:0.25px" textLength="26" lengthAdjust="spacingAndGlyphs">α</text>
<text x="1265.5" y="1099.9" font-size="30.5" style="font-family:'Liberation Serif',serif;stroke-width:0.25px" textLength="110.5" lengthAdjust="spacingAndGlyphs">Research</text>
<text transform="translate(1393.4,1099.9) scale(0.95,0.756)" font-size="26" text-anchor="middle" style="stroke-width:0.35px">2</text>
<text transform="translate(1408.0,1099.9) scale(0.95,0.756)" font-size="26" text-anchor="middle" style="stroke-width:0.35px">0</text>
<text transform="translate(1422.6,1099.9) scale(0.95,0.756)" font-size="26" text-anchor="middle" style="stroke-width:0.35px">2</text>
<text transform="translate(1437.2,1099.9) scale(0.95,0.946)" font-size="26" text-anchor="middle" style="stroke-width:0.35px">6</text>
</svg></body></html>
